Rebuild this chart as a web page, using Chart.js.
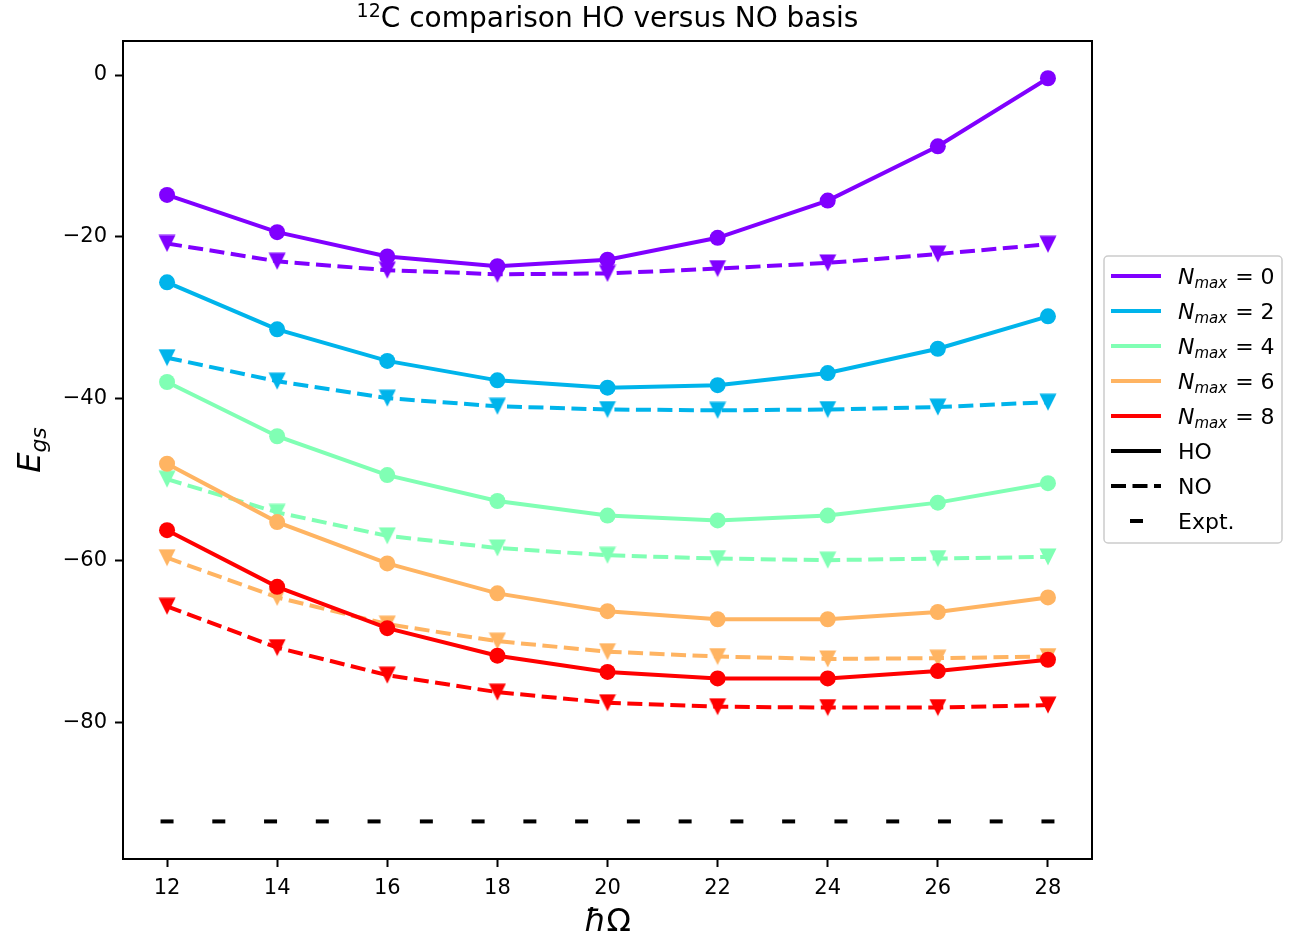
<!DOCTYPE html>
<html>
<head>
<meta charset="utf-8">
<script src="https://cdn.jsdelivr.net/npm/chart.js@4.4.1/dist/chart.umd.min.js"></script>
<style>
  body { margin: 0; background: #fff; }
  #wrap { width: 1289px; height: 940px; position: relative; }
</style>
</head>
<body>
<div id="wrap"><canvas id="myChart"></canvas></div>
<script>
// hbar*Omega values (MeV)
const hw = [12, 14, 16, 18, 20, 22, 24, 26, 28];

// ground state energies, HO basis
const hoN0 = [-14.8, -19.4, -22.4, -23.6, -22.8, -20.1, -15.5, -8.8, -0.4];
const hoN2 = [-25.6, -31.4, -35.3, -37.7, -38.6, -38.3, -36.8, -33.8, -29.8];
const hoN4 = [-37.9, -44.6, -49.4, -52.6, -54.4, -55.0, -54.4, -52.8, -50.4];
const hoN6 = [-48.0, -55.2, -60.3, -64.0, -66.2, -67.2, -67.2, -66.3, -64.5];
const hoN8 = [-56.2, -63.2, -68.3, -71.7, -73.7, -74.5, -74.5, -73.6, -72.2];

// ground state energies, NO basis
const noN0 = [-20.8, -23.0, -24.1, -24.6, -24.5, -23.9, -23.2, -22.1, -20.9];
const noN2 = [-34.9, -37.8, -39.9, -40.9, -41.3, -41.4, -41.3, -41.0, -40.4];
const noN4 = [-49.9, -54.0, -56.9, -58.4, -59.3, -59.7, -59.9, -59.7, -59.5];
const noN6 = [-59.6, -64.5, -67.8, -69.9, -71.2, -71.8, -72.1, -72.0, -71.8];
const noN8 = [-65.6, -70.7, -74.1, -76.2, -77.5, -78.0, -78.1, -78.1, -77.8];

// experimental value, drawn as a row of dashes
const exptE = -92.16;
const exptX = [12, 12.94, 13.88, 14.82, 15.76, 16.71, 17.65, 18.59, 19.53,
               20.47, 21.41, 22.35, 23.29, 24.24, 25.18, 26.12, 27.06, 28];

const nmax = [0, 2, 4, 6, 8];
const hoSets = [hoN0, hoN2, hoN4, hoN6, hoN8];
const noSets = [noN0, noN2, noN4, noN6, noN8];
const colors = ['#8000ff', '#00b4eb', '#80ffb4', '#ffb462', '#ff0000'];

const xTicks = [12, 14, 16, 18, 20, 22, 24, 26, 28];
const yTicks = [0, -20, -40, -60, -80];

const FONT = '"DejaVu Sans", sans-serif';
const LW = 4;
const DASH = [15, 6.5];

// downward triangle marker like matplotlib's 'v'
function triMarker(color) {
  const s = 18;
  const c = document.createElement('canvas');
  c.width = s; c.height = s;
  const g = c.getContext('2d');
  g.fillStyle = color;
  g.beginPath();
  g.moveTo(0.5, 0.5);
  g.lineTo(s - 0.5, 0.5);
  g.lineTo(s / 2, s - 0.5);
  g.closePath();
  g.fill();
  return c;
}

const pts = (ys) => ys.map((y, i) => ({x: hw[i], y: y}));

const datasets = [];
nmax.forEach((n, k) => {
  datasets.push({
    label: 'HO ' + n,
    data: pts(hoSets[k]),
    borderColor: colors[k],
    backgroundColor: colors[k],
    borderWidth: LW,
    pointStyle: 'circle',
    pointRadius: 8,
    pointBorderWidth: 0,
    pointBackgroundColor: colors[k]
  });
  datasets.push({
    label: 'NO ' + n,
    data: pts(noSets[k]),
    borderColor: colors[k],
    backgroundColor: colors[k],
    borderWidth: LW,
    borderDash: DASH,
    pointStyle: triMarker(colors[k]),
    pointRadius: 9
  });
});
datasets.push({
  label: 'Expt.',
  data: exptX.map(x => ({x: x, y: exptE})),
  showLine: false,
  borderColor: '#000',
  backgroundColor: '#000',
  pointStyle: 'line',
  pointRadius: 6.5,
  pointBorderWidth: 4,
  pointBorderColor: '#000'
});
// later series sit on top
datasets.forEach((d, i) => { d.order = datasets.length - i; });

// title, axis labels, frame and legend
const decor = {
  id: 'decor',
  afterDatasetsDraw(chart) {
    const {ctx, chartArea: a} = chart;
    ctx.save();
    ctx.strokeStyle = '#000';
    ctx.lineWidth = 2;
    ctx.strokeRect(a.left, a.top, a.right - a.left, a.bottom - a.top);
    ctx.restore();
  },
  afterDraw(chart) {
    const {ctx, chartArea: a} = chart;
    const cx = (a.left + a.right) / 2;
    ctx.save();
    ctx.fillStyle = '#000';
    ctx.textBaseline = 'alphabetic';

    // title with superscript mass number
    const supFont = '19px ' + FONT, mainFont = '28px ' + FONT;
    const main = 'C comparison HO versus NO basis';
    ctx.font = supFont; const w1 = ctx.measureText('12').width;
    ctx.font = mainFont; const w2 = ctx.measureText(main).width;
    let x0 = cx - (w1 + w2) / 2;
    ctx.textAlign = 'left';
    ctx.font = supFont; ctx.fillText('12', x0, 17);
    ctx.font = mainFont; ctx.fillText(main, x0 + w1, 27);

    // x axis label
    ctx.font = 'italic 32px ' + FONT;
    const wh = ctx.measureText('ħ').width;
    ctx.font = '32px ' + FONT;
    const wo = ctx.measureText('Ω').width;
    x0 = cx - (wh + wo) / 2;
    ctx.font = 'italic 32px ' + FONT; ctx.fillText('ħ', x0, 931);
    ctx.font = '32px ' + FONT; ctx.fillText('Ω', x0 + wh, 931);

    // y axis label
    ctx.save();
    ctx.translate(40, (a.top + a.bottom) / 2);
    ctx.rotate(-Math.PI / 2);
    ctx.font = 'italic 32px ' + FONT;
    const we = ctx.measureText('E').width;
    ctx.font = 'italic 22px ' + FONT;
    const wg = ctx.measureText('gs').width;
    x0 = -(we + wg) / 2;
    ctx.font = 'italic 32px ' + FONT; ctx.fillText('E', x0, 0);
    ctx.font = 'italic 22px ' + FONT; ctx.fillText('gs', x0 + we, 6);
    ctx.restore();

    // legend
    const lx = 1104, ly = 256, lw = 178, lh = 287;
    ctx.beginPath();
    ctx.roundRect(lx, ly, lw, lh, 4);
    ctx.fillStyle = 'rgba(255,255,255,0.8)';
    ctx.fill();
    ctx.strokeStyle = '#cccccc';
    ctx.lineWidth = 1.5;
    ctx.stroke();

    const rowY = (i) => 276 + 35 * i;
    const hx0 = 1111, hx1 = 1161, tx = 1178;
    ctx.lineWidth = LW;
    nmax.forEach((n, k) => {
      const y = rowY(k);
      ctx.strokeStyle = colors[k];
      ctx.setLineDash([]);
      ctx.beginPath(); ctx.moveTo(hx0, y); ctx.lineTo(hx1, y); ctx.stroke();
      ctx.fillStyle = '#000';
      ctx.font = 'italic 22px ' + FONT;
      ctx.fillText('N', tx, y + 8);
      const wn = ctx.measureText('N').width;
      ctx.font = 'italic 15px ' + FONT;
      ctx.fillText('max', tx + wn, y + 12);
      const wm = ctx.measureText('max').width;
      ctx.font = '22px ' + FONT;
      ctx.fillText(' = ' + n, tx + wn + wm + 1, y + 8);
    });
    ctx.strokeStyle = '#000';
    ctx.fillStyle = '#000';
    ctx.font = '22px ' + FONT;
    let y = rowY(5);
    ctx.beginPath(); ctx.moveTo(hx0, y); ctx.lineTo(hx1, y); ctx.stroke();
    ctx.fillText('HO', tx, y + 8);
    y = rowY(6);
    ctx.setLineDash(DASH);
    ctx.beginPath(); ctx.moveTo(hx0, y); ctx.lineTo(hx1, y); ctx.stroke();
    ctx.setLineDash([]);
    ctx.fillText('NO', tx, y + 8);
    y = rowY(7);
    ctx.lineWidth = 4;
    ctx.beginPath(); ctx.moveTo(1130, y); ctx.lineTo(1143, y); ctx.stroke();
    ctx.fillText('Expt.', tx, y + 8);
    ctx.restore();
  }
};

const charte = document.getElementById('myChart');
new Chart(charte, {
  type: 'line',
  data: { datasets: datasets },
  options: {
    responsive: true,
    maintainAspectRatio: false,
    animation: false,
    layout: { padding: { left: 0, top: 41, right: 197, bottom: 0 } },
    plugins: {
      legend: { display: false },
      tooltip: { enabled: false },
      title: { display: false }
    },
    scales: {
      x: {
        type: 'linear',
        min: 11.2,
        max: 28.8,
        afterBuildTicks: (s) => { s.ticks = xTicks.map(v => ({value: v})); },
        afterFit: (s) => { s.height = 81; },
        grid: { drawOnChartArea: false, drawTicks: true, tickLength: 8, tickWidth: 2, tickColor: '#000' },
        border: { display: false },
        ticks: {
          color: '#000', font: { family: FONT, size: 21 }, padding: 9,
          maxRotation: 0, autoSkip: false
        }
      },
      y: {
        type: 'linear',
        min: -96.8,
        max: 4.2,
        afterBuildTicks: (s) => { s.ticks = yTicks.map(v => ({value: v})); },
        afterFit: (s) => { s.width = 123; },
        grid: { drawOnChartArea: false, drawTicks: true, tickLength: 8, tickWidth: 2, tickColor: '#000' },
        border: { display: false },
        ticks: {
          color: '#000', font: { family: FONT, size: 21 }, padding: 8,
          callback: (v) => String(v).replace('-', '\u2212')
        }
      }
    }
  },
  plugins: [decor]
});
</script>
</body>
</html>
